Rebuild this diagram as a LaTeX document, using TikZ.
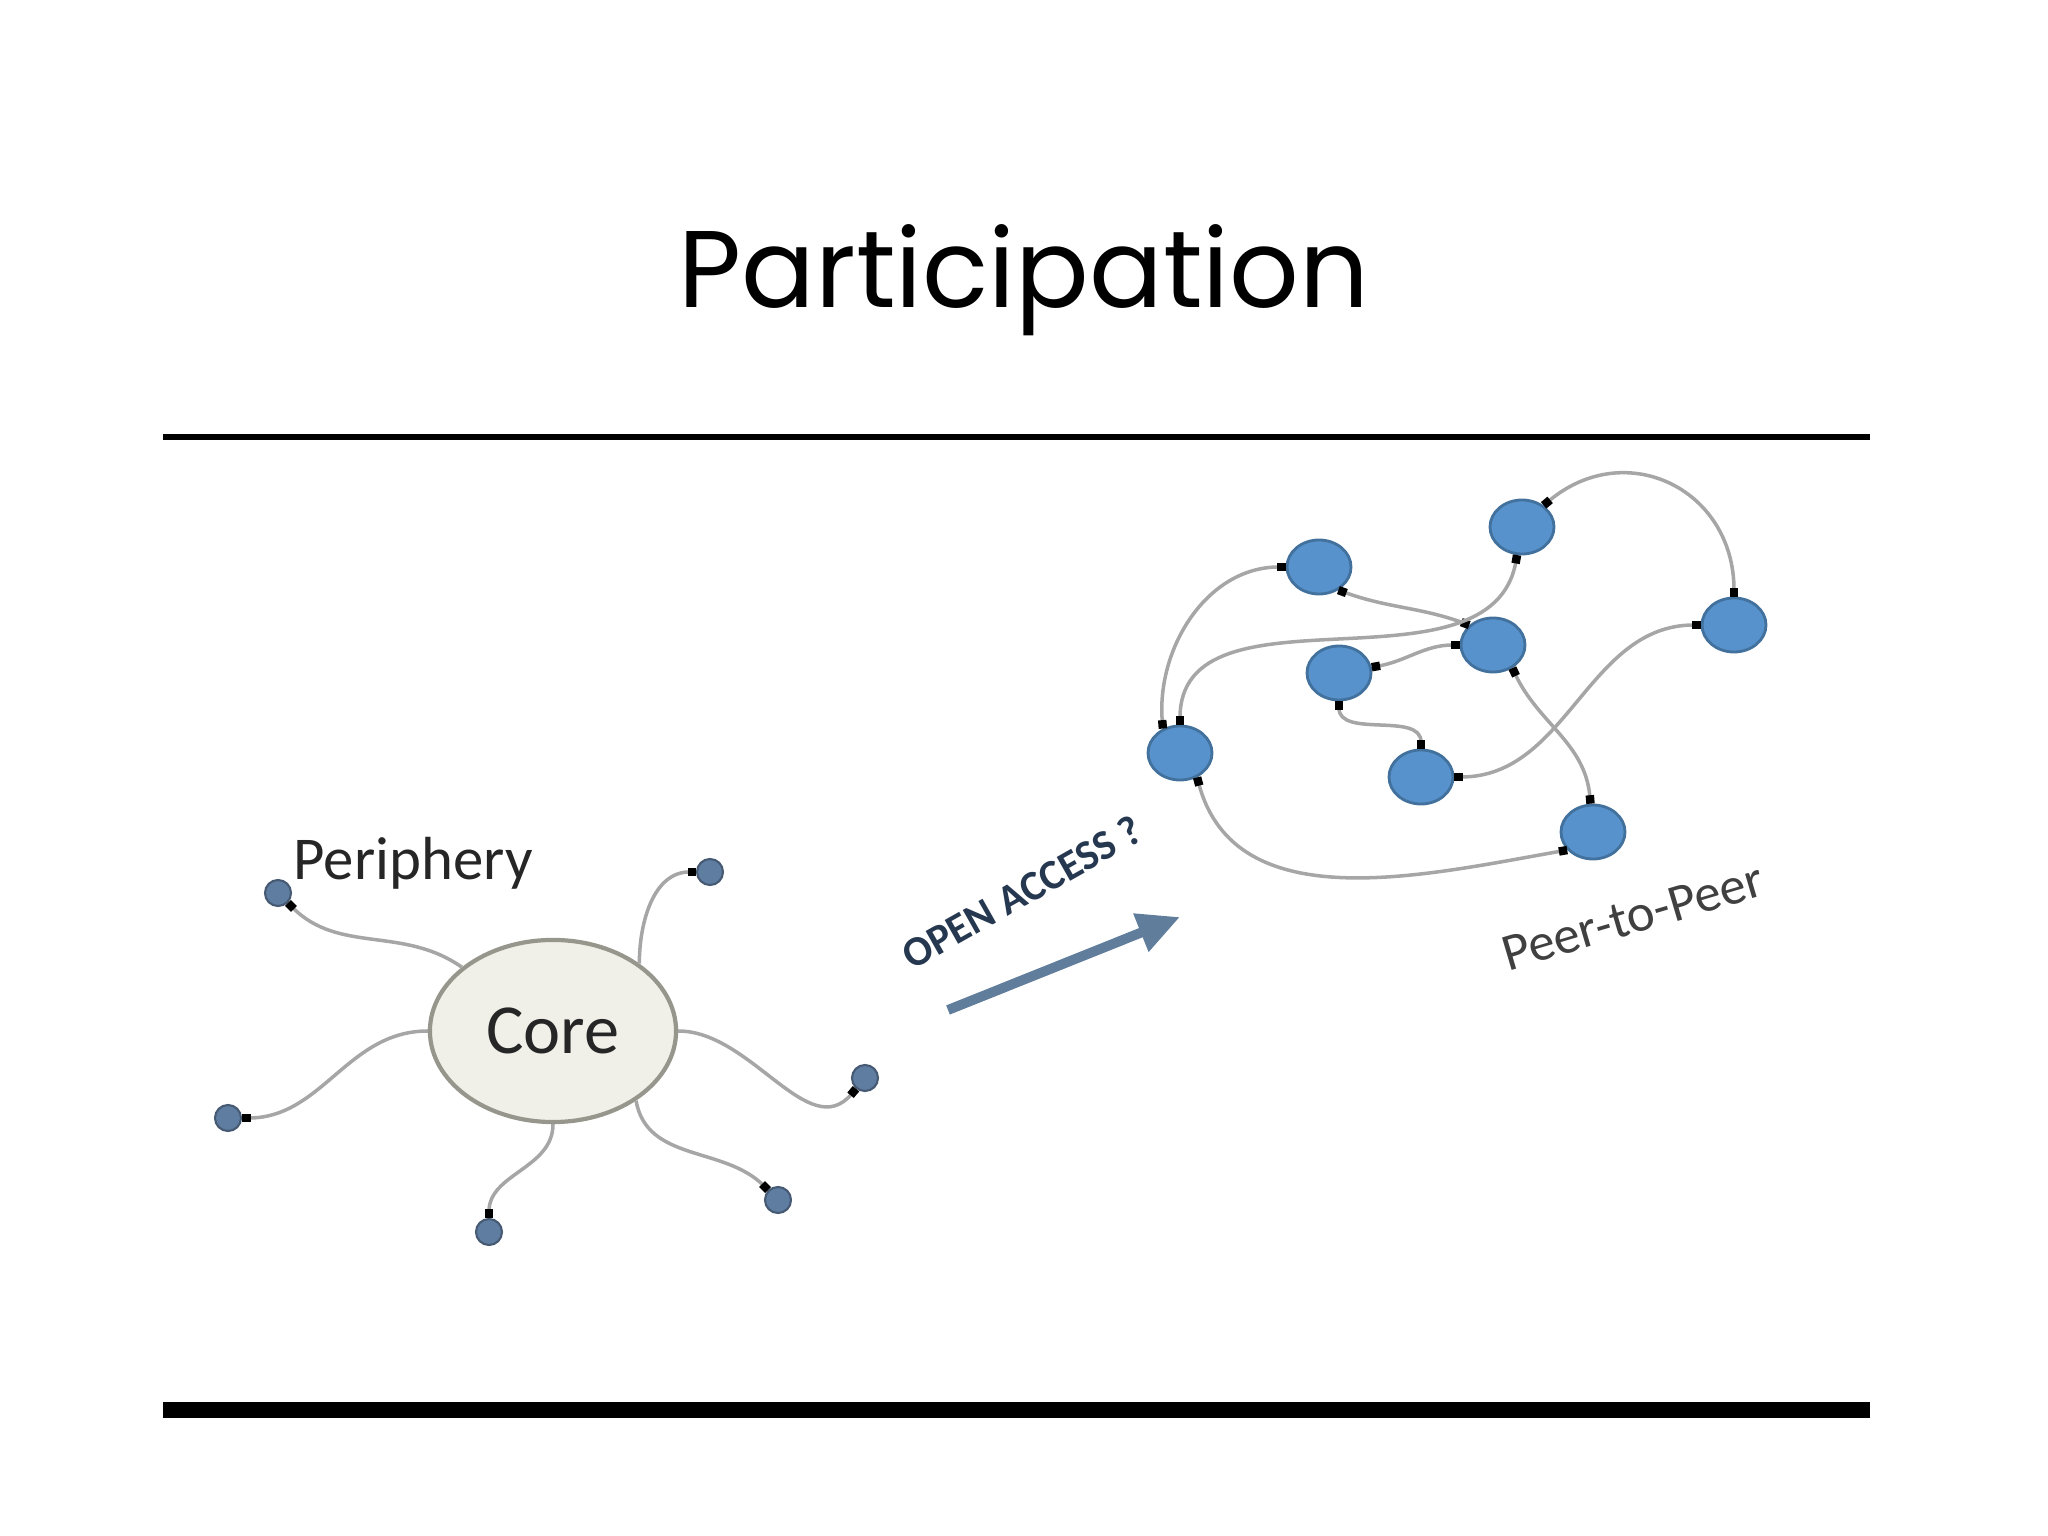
\documentclass[tikz,border=0pt]{standalone}
\usepackage{fontspec}
\usepackage{tikz}
\usetikzlibrary{arrows.meta,shapes.geometric}
\newfontfamily\titlefont{Poppins}
\newfontfamily\calfont{Carlito}
\definecolor{PartLeafFill}{RGB}{95,125,160}
\definecolor{PartLeafDraw}{RGB}{70,90,115}
\definecolor{PartPeerFill}{RGB}{88,146,204}
\definecolor{PartPeerDraw}{RGB}{65,113,156}
\definecolor{PartCoreFill}{RGB}{240,240,232}
\definecolor{PartCoreDraw}{RGB}{150,150,140}
\definecolor{PartLink}{RGB}{166,166,166}
\definecolor{PartArrow}{RGB}{96,125,155}
\definecolor{PartNavy}{RGB}{37,56,80}

\begin{document}
\begin{tikzpicture}[x=0.01cm,y=0.01cm,
  sq/.tip={Square[length=2.4pt,width=2.4pt,color=black]},
  leaf/.style={circle,fill=PartLeafFill,draw=PartLeafDraw,line width=0.6pt,minimum size=0.26cm,inner sep=0pt},
  peer/.style={ellipse,fill=PartPeerFill,draw=PartPeerDraw,line width=0.8pt,minimum width=0.64cm,minimum height=0.54cm,inner sep=0pt},
  corebox/.style={ellipse,fill=PartCoreFill,draw=PartCoreDraw,line width=1.2pt,minimum width=2.46cm,minimum height=1.82cm,inner sep=0pt,font=\calfont\fontsize{20}{24}\selectfont,text=black!85},
  spoke/.style={draw=PartLink,line width=1pt,sq-},
  link/.style={draw=PartLink,line width=1pt,sq-sq},
  bigarrow/.style={draw=PartArrow,line width=2.8pt,-{Triangle[length=12pt,width=11pt]}}]
\useasboundingbox (0,0) rectangle (2048,1536);
\node[anchor=base,font=\titlefont\fontsize{31}{36}\selectfont] (title) at (1024,1228) {Participation};
\draw[line width=1.7pt] (163,1099) -- (1870,1099);
\draw[line width=4.5pt] (163,126) -- (1870,126);
% core and periphery
\node[corebox] (core) at (553,505) {Core};
\foreach \n/\x/\y in {1/278/643,2/710/664,3/228/418,4/865/458,5/489/304,6/778/336} {
   \node[leaf](leaf\n) at(\x,\y) {};
}
\node[anchor=base west,inner sep=0pt,font=\calfont\fontsize{17.3}{20}\selectfont,text=black!85] (perilabel) at (293,656) {Periphery};
\draw[spoke] (leaf1) to[out=-45,in=145] (core);
\draw[spoke] (leaf2) to[out=180,in=90] (core.38);
\draw[spoke] (leaf3) to[out=0,in=180] (core);
\draw[spoke] (leaf4) to[out=-130,in=0] (core);
\draw[spoke] (leaf5) to[out=90,in=-90] (core);
\draw[spoke] (leaf6) to[out=135,in=-80] (core.-40);
% open access arrow
\coordinate (oaStart) at (948,526);
\coordinate (oaEnd) at (1180,619);
\draw[bigarrow] (oaStart) -- (oaEnd);
\node[rotate=29.5,font=\calfont\bfseries\fontsize{12}{14}\selectfont,text=PartNavy] (oalabel) at (1022,644) {OPEN ACCESS ?};
% peer-to-peer
\foreach \n/\x/\y in {A/1319/969,B/1522/1009,C/1734/911,D/1493/891,E/1339/863,F/1180/783,G/1421/759,H/1593/704} {
   \node[peer](peer\n) at(\x,\y) {};
}
\draw[link] (peerA) to[out=180,in=95] (peerF.125);
\draw[link] (peerA.-50) to[out=-20,in=160] (peerD.140);
\draw[link] (peerB) to[out=-100,in=90] (peerF);
\draw[link] (peerB.45) to[out=40,in=90,looseness=1.3] (peerC);
\draw[link] (peerE) to[out=10,in=180] (peerD);
\draw[link] (peerE) to[out=-90,in=90] (peerG);
\draw[link] (peerG) to[out=0,in=180] (peerC);
\draw[link] (peerD.-50) to[out=-65,in=95] (peerH);
\draw[link] (peerF.-55) to[out=-75,in=190] (peerH.215);
\node[rotate=16.5,font=\calfont\fontsize{15}{18}\selectfont,text=black!75] (p2plabel) at (1633,619) {Peer-to-Peer};
\end{tikzpicture}
\end{document}
